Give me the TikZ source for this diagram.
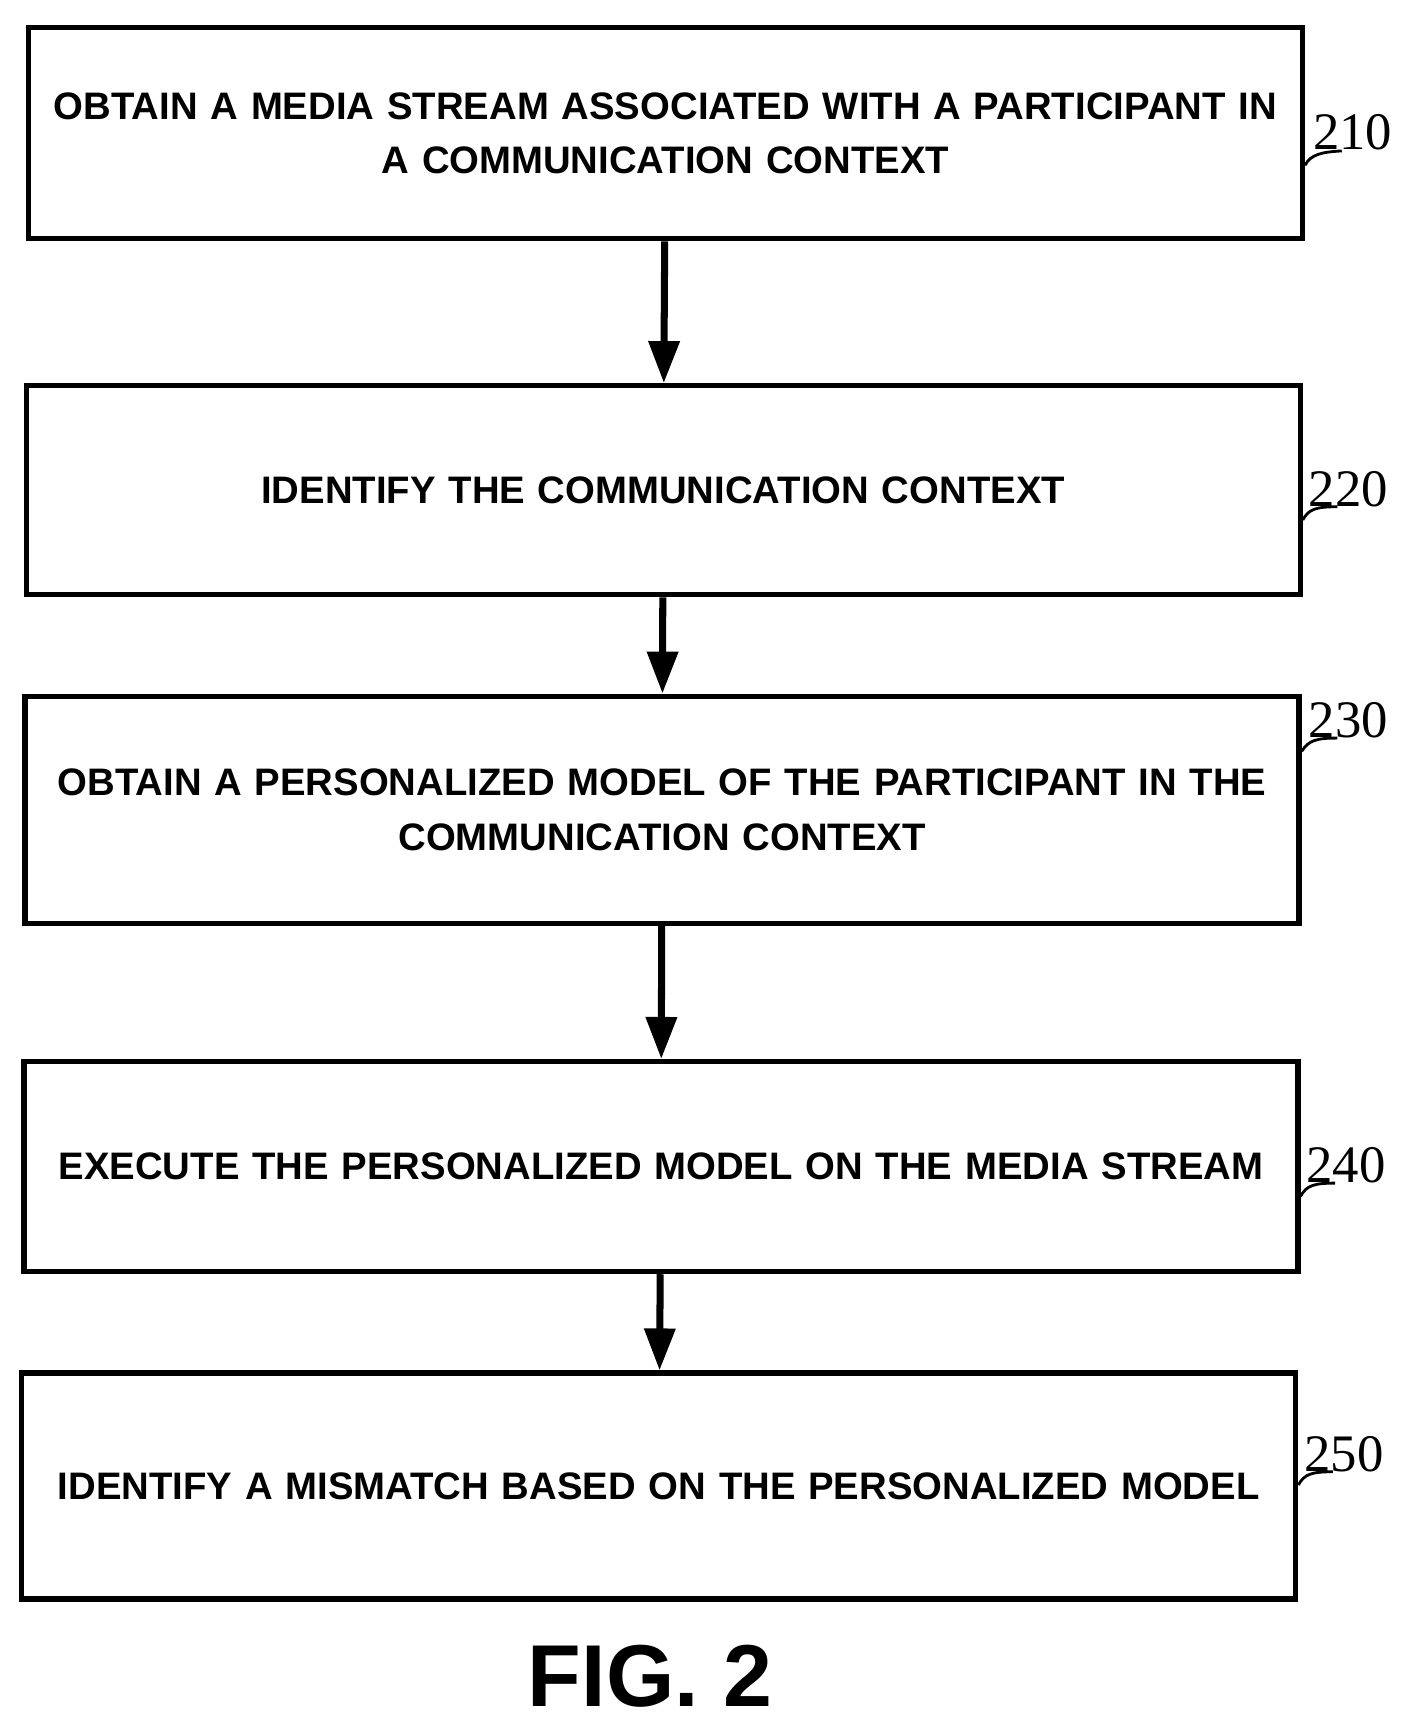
\documentclass[tikz,border=0pt]{standalone}
\usepackage{fontspec}
\setmainfont{Liberation Sans}
\newfontfamily\numfont{Liberation Serif}
\usetikzlibrary{arrows.meta}
\begin{document}
\begin{tikzpicture}
        [
            x=0.011014cm, y=-0.011014cm,
            stage/.style = {draw, line width=1.5pt, rectangle, inner sep = 0pt, minimum width = 12.74cm, text width = 12.7cm, align=center, font=\bfseries\fontsize{10.9}{15.5}\selectfont},
            flow/.style = {line width=2pt, -{Triangle[length=0.42cm, width=0.3cm]}},
            ref/.style = {font=\numfont\fontsize{15}{15}\selectfont},
            hook/.style = {line width=0.8pt}
        ]
        \useasboundingbox (0,0) rectangle (1272,1565);
        \node[stage, minimum height = 2.11cm] (s210) at (604, 121) {OBTAIN A MEDIA STREAM ASSOCIATED WITH A PARTICIPANT IN\\A COMMUNICATION CONTEXT};
        \node[stage, minimum height = 2.09cm] (s220) at (602, 445) {IDENTIFY THE COMMUNICATION CONTEXT};
        \node[stage, minimum height = 2.27cm] (s230) at (601, 735) {OBTAIN A PERSONALIZED MODEL OF THE PARTICIPANT IN THE\\COMMUNICATION CONTEXT};
        \node[stage, minimum height = 2.10cm] (s240) at (600, 1059) {EXECUTE THE PERSONALIZED MODEL ON THE MEDIA STREAM};
        \node[stage, minimum height = 2.26cm] (s250) at (598, 1349) {IDENTIFY A MISMATCH BASED ON THE PERSONALIZED MODEL};
        \draw[flow] (s210) -- (s220);
        \draw[flow] (s220) -- (s230);
        \draw[flow] (s230) -- (s240);
        \draw[flow] (s240) -- (s250);
        % reference numerals
        \node[ref] (n210) at (1228, 120) {210};
        \node[ref] (n220) at (1224, 444) {220};
        \node[ref] (n230) at (1224, 654) {230};
        \node[ref] (n240) at (1222, 1058) {240};
        \node[ref] (n250) at (1220, 1320) {250};
        \draw[hook] (s210.east |- 0,150) .. controls (1190,140) and (1200,138) .. (1218,137);
        \draw[hook] (s220.east |- 0,472) .. controls (1188,462) and (1195,460) .. (1214,460);
        \draw[hook] (s230.east |- 0,682) .. controls (1188,672) and (1195,670) .. (1214,670);
        \draw[hook] (s240.east |- 0,1086) .. controls (1186,1076) and (1193,1074) .. (1212,1074);
        \draw[hook] (s250.east |- 0,1348) .. controls (1184,1338) and (1191,1336) .. (1210,1336);
        \node[font=\bfseries\fontsize{25}{25}\selectfont] (fig) at (590, 1522) {FIG. 2};
\end{tikzpicture}
\end{document}
